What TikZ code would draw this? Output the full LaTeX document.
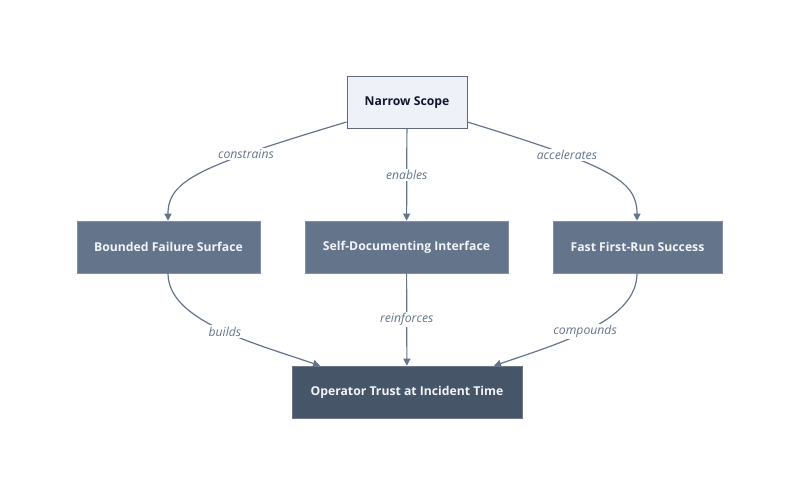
\documentclass[tikz,border=0pt]{standalone}
\usepackage{fontspec}
\setmainfont{Open Sans}
\usetikzlibrary{arrows.meta}
\definecolor{edgegray}{HTML}{64748B}
\definecolor{topfill}{HTML}{EEF2F8}
\definecolor{topdraw}{HTML}{5C6B82}
\definecolor{midfill}{HTML}{64748B}
\definecolor{lowfill}{HTML}{475569}
\definecolor{darktext}{HTML}{0F172A}
\definecolor{lighttext}{HTML}{F1F5F9}

\begin{document}
\begin{tikzpicture}[x=1pt, y=-1pt,
		box/.style={rectangle, minimum height=52pt, inner sep=0pt,
			font=\fontsize{12.2}{14}\selectfont\bfseries},
		topbox/.style={box, fill=topfill, draw=topdraw, line width=0.9pt, text=darktext},
		midbox/.style={box, fill=midfill, draw=midfill!80!white, line width=0.6pt, text=lighttext},
		lowbox/.style={box, fill=lowfill, draw=lowfill!80!white, line width=0.6pt, text=lighttext},
		edge/.style={draw=edgegray, line width=1.2pt, -{Triangle[length=7pt, width=7pt]}},
		lbl/.style={fill=white, inner sep=1.5pt, text=edgegray,
			font=\fontsize{12.2}{14}\selectfont\itshape}]
		%%%%% START %%%%%
		
		\useasboundingbox (0, 0) rectangle (800, 495);
		
		\node[topbox, minimum width=120pt] (scope) at (407, 102.5) {Narrow Scope};
		
		\node[midbox, minimum width=183pt] (bounded) at (168.5, 247) {Bounded Failure Surface};
		\node[midbox, minimum width=203pt] (selfdoc) at (406.5, 247) {Self-Documenting Interface};
		\node[midbox, minimum width=169pt] (fastrun) at (637.5, 247) {Fast First-Run Success};
		
		\node[lowbox, minimum width=230pt] (trust) at (407, 392) {Operator Trust at Incident Time};
		
		\draw[edge] (scope.west |- 0, 122) .. controls (200, 166) and (168, 180) .. (bounded.north -| 168, 0)
			node[lbl, pos=0.29] {constrains};
		\draw[edge] (scope) -- (selfdoc) node[lbl, midway] {enables};
		\draw[edge] (scope.east |- 0, 122) .. controls (610, 166) and (637, 180) .. (fastrun.north -| 637, 0)
			node[lbl, pos=0.3] {accelerates};
		
		\draw[edge] (bounded.south -| 168, 0) .. controls (168, 320) and (250, 342) .. (trust.north -| 320, 0)
			node[lbl, pos=0.54] {builds};
		\draw[edge] (selfdoc) -- (trust) node[lbl, midway] {reinforces};
		\draw[edge] (fastrun.south -| 637, 0) .. controls (637, 320) and (564, 342) .. (trust.north -| 494, 0)
			node[lbl, pos=0.54] {compounds};
		
		%%%%% END %%%%%
	\end{tikzpicture}
\end{document}
